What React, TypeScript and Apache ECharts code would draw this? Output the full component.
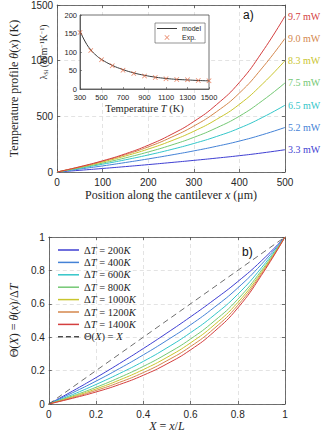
import React, { useEffect, useRef } from "react";
import * as echarts from "echarts";

// ---------- data ----------
const POSITION_UM = [0, 50, 100, 150, 200, 250, 300, 350, 400, 450, 500];
const NORM_X = [0, 0.1, 0.2, 0.3, 0.4, 0.5, 0.6, 0.7, 0.8, 0.9, 1];
const DELTA_T = [200, 400, 600, 800, 1000, 1200, 1400];
const POWER_LABELS = ["3.3 mW", "5.2 mW", "6.5 mW", "7.5 mW", "8.3 mW", "9.0 mW", "9.7 mW"];
const THETA_200 = [0, 0.077, 0.158, 0.243, 0.332, 0.425, 0.522, 0.624, 0.733, 0.857, 1];
const THETA_400 = [0, 0.067, 0.137, 0.213, 0.294, 0.381, 0.474, 0.578, 0.695, 0.836, 1];
const THETA_600 = [0, 0.056, 0.117, 0.183, 0.255, 0.336, 0.427, 0.532, 0.657, 0.815, 1];
const THETA_800 = [0, 0.048, 0.1, 0.159, 0.225, 0.301, 0.389, 0.496, 0.627, 0.799, 1];
const THETA_1000 = [0, 0.043, 0.09, 0.144, 0.206, 0.279, 0.366, 0.473, 0.608, 0.788, 1];
const THETA_1200 = [0, 0.038, 0.081, 0.13, 0.188, 0.259, 0.344, 0.452, 0.591, 0.779, 1];
const THETA_1400 = [0, 0.034, 0.072, 0.117, 0.172, 0.24, 0.324, 0.433, 0.575, 0.77, 1];
const THETAS = [THETA_200, THETA_400, THETA_600, THETA_800, THETA_1000, THETA_1200, THETA_1400];
const COLORS = ["#3f3fd2", "#4482d6", "#33c6c9", "#74c874", "#c9c52e", "#d4874c", "#d43f3f"];

const MODEL_T = [300, 350, 400, 450, 500, 600, 700, 800, 900, 1000, 1100, 1200, 1300, 1400, 1500];
const MODEL_LAMBDA = [157, 127, 106, 91, 80, 64, 52.5, 43.5, 37, 32, 28.5, 26, 24.5, 23, 22];
const EXP_T = [300, 400, 500, 600, 700, 800, 900, 1000, 1100, 1200, 1300, 1400, 1500];
const EXP_LAMBDA = [153, 104, 79, 63, 51, 42, 35, 31, 28, 26, 25, 23, 22];

const MAIN_X_TICKS = { min: 0, max: 500, interval: 100 };
const MAIN_Y_TICKS = { min: 0, max: 1500, interval: 500 };
const INSET_X_TICKS = { min: 300, max: 1500, interval: 200 };
const INSET_Y_TICKS = { min: 0, max: 200, interval: 50 };
const NORM_TICKS = { min: 0, max: 1, interval: 0.2 };

// ---------- styles ----------
const SERIF = "Liberation Serif";
const SANS = "Liberation Sans";
const AXIS_COLOR = "#4d4d4d";
const LABEL_COLOR = "#262626";
const XMARK = "path://M1,0 L5,4 L9,0 L10,1 L6,5 L10,9 L9,10 L5,6 L1,10 L0,9 L4,5 L0,1 Z";
const LINE_ICON = "path://M0,0 L14,0 L14,1 L0,1 Z";
const DASH_ICON = "path://M0,0 h3.3 v1 h-3.3 Z M5.3,0 h3.3 v1 h-3.3 Z M10.7,0 h3.3 v1 h-3.3 Z";
const plain = (v: number) => String(Math.round(v * 1000) / 1000);

const italicRich = (size: number, lh?: number) => ({
  i: { fontStyle: "italic", fontFamily: SERIF, fontSize: size, color: LABEL_COLOR, lineHeight: lh },
  sub: { fontFamily: SERIF, fontSize: size * 0.65, color: LABEL_COLOR, verticalAlign: "bottom", padding: [4, 0, 0, 0] },
  sup: { fontFamily: SERIF, fontSize: size * 0.65, color: LABEL_COLOR, verticalAlign: "top", padding: [0, 0, 4, 0] },
});

function axis(
  kind: "x" | "y",
  gridIndex: number,
  ticks: { min: number; max: number; interval: number },
  position: string,
  labels: boolean,
  extra: any = {}
) {
  return {
    type: "value",
    gridIndex,
    position,
    min: ticks.min,
    max: ticks.max,
    interval: ticks.interval,
    axisLine: { show: true, onZero: false, lineStyle: { color: AXIS_COLOR, width: 0.8 } },
    axisTick: { show: true, inside: true, length: 3, lineStyle: { color: AXIS_COLOR, width: 0.8 } },
    axisLabel: {
      show: labels,
      fontFamily: SANS,
      fontSize: 10,
      color: LABEL_COLOR,
      margin: kind === "x" ? 5 : 4,
      formatter: plain,
    },
    splitLine: { show: false },
    ...extra,
  };
}

const gridSplit = { show: true, lineStyle: { color: "#dcdcdc", type: [4, 3], width: 0.8 } };

export default function App() {
  const ref = useRef<HTMLDivElement>(null);

  useEffect(() => {
    document.body.style.margin = "0";
    const chart = echarts.init(ref.current!, null, { renderer: "svg" });

    const topSeries = DELTA_T.map((dt, k) => ({
      type: "line",
      name: POWER_LABELS[k],
      xAxisIndex: 0,
      yAxisIndex: 0,
      data: POSITION_UM.map((x, j) => [x, dt * THETAS[k][j]]),
      smooth: true,
      symbol: "none",
      lineStyle: { color: COLORS[k], width: 1 },
      itemStyle: { color: COLORS[k] },
      endLabel: {
        show: true,
        formatter: "{a}",
        color: COLORS[k],
        fontFamily: SERIF,
        fontSize: 10,
        distance: 3,
      },
      z: 2,
    }));

    const bottomNames = DELTA_T.map((dt) => `ΔT = ${dt}K`);
    const bottomSeries = DELTA_T.map((dt, k) => ({
      type: "line",
      name: bottomNames[k],
      xAxisIndex: 4,
      yAxisIndex: 4,
      data: NORM_X.map((x, j) => [x, THETAS[k][j]]),
      smooth: true,
      symbol: "none",
      lineStyle: { color: COLORS[k], width: 1 },
      itemStyle: { color: COLORS[k] },
    }));

    const option: any = {
      animation: false,
      backgroundColor: "#ffffff",
      grid: [
        { left: 45, top: 5, width: 240, height: 167 },
        {
          left: 80, top: 15, width: 129, height: 74, show: true,
          backgroundColor: "#ffffff", borderColor: AXIS_COLOR, borderWidth: 0.8, z: 3,
        },
        { left: 45, top: 237, width: 240, height: 167 },
      ],
      xAxis: [
        axis("x", 0, MAIN_X_TICKS, "bottom", true, {
          splitLine: gridSplit,
          name: "Position along the cantilever {i|x} (μm)",
          nameLocation: "middle",
          nameGap: 17,
          nameTextStyle: { fontFamily: SERIF, fontSize: 12, color: LABEL_COLOR, rich: italicRich(12) },
        }),
        axis("x", 0, MAIN_X_TICKS, "top", false),
        axis("x", 1, INSET_X_TICKS, "bottom", true, {
          z: 4,
          axisLabel: { show: true, fontFamily: SANS, fontSize: 7.5, color: LABEL_COLOR, margin: 4, formatter: plain },
          axisTick: { show: true, inside: true, length: 2, lineStyle: { color: AXIS_COLOR, width: 0.6 } },
          name: "Temperature {i|T} (K)",
          nameLocation: "middle",
          nameGap: 14,
          nameTextStyle: { fontFamily: SERIF, fontSize: 10.5, color: LABEL_COLOR, rich: italicRich(10.5) },
        }),
        axis("x", 2, NORM_TICKS, "top", false),
        axis("x", 2, NORM_TICKS, "bottom", true, {
          splitLine: gridSplit,
          name: "{i|X} = {i|x}/{i|L}",
          nameLocation: "middle",
          nameGap: 12,
          nameTextStyle: { fontFamily: SERIF, fontSize: 12, color: LABEL_COLOR, rich: italicRich(12) },
        }),
      ],
      yAxis: [
        axis("y", 0, MAIN_Y_TICKS, "left", true, {
          splitLine: gridSplit,
          name: "Temperature profile {i|θ}({i|x}) (K)",
          nameLocation: "middle",
          nameGap: 32,
          nameTextStyle: { fontFamily: SERIF, fontSize: 12, color: LABEL_COLOR, rich: italicRich(12) },
        }),
        axis("y", 0, MAIN_Y_TICKS, "right", false),
        axis("y", 1, INSET_Y_TICKS, "left", true, {
          z: 4,
          axisLabel: { show: true, fontFamily: SANS, fontSize: 7.5, color: LABEL_COLOR, margin: 3, formatter: plain },
          axisTick: { show: true, inside: true, length: 2, lineStyle: { color: AXIS_COLOR, width: 0.6 } },
          name: "λ{sub|Si} (Wm{sup|−1}K{sup|−1})",
          nameLocation: "middle",
          nameGap: 31,
          nameTextStyle: { fontFamily: SERIF, fontSize: 9.5, color: LABEL_COLOR, rich: italicRich(9.5) },
        }),
        axis("y", 2, NORM_TICKS, "right", false),
        axis("y", 2, NORM_TICKS, "left", true, {
          splitLine: gridSplit,
          name: "Θ({i|X}) = {i|θ}({i|x})/Δ{i|T}",
          nameLocation: "middle",
          nameGap: 26,
          nameTextStyle: { fontFamily: SERIF, fontSize: 12, color: LABEL_COLOR, rich: italicRich(12) },
        }),
      ],
      legend: [
        {
          data: [
            ...bottomNames.map((n, k) => ({ name: n, icon: LINE_ICON, itemStyle: { color: COLORS[k] } })),
            { name: "Θ(X) = X", icon: DASH_ICON, itemStyle: { color: "#4a4a4a" } },
          ],
          orient: "vertical",
          left: 53,
          top: 239,
          itemWidth: 21,
          itemHeight: 1.5,
          itemGap: 0.4,
          selectedMode: false,
          formatter: (name: string) =>
            name.startsWith("Θ")
              ? "Θ({i|X}) = {i|X}"
              : name.replace("ΔT = ", "Δ{i|T} = ").replace("K", "{i|K}"),
          textStyle: { fontFamily: SERIF, fontSize: 10.5, lineHeight: 12, color: LABEL_COLOR, rich: italicRich(10.5, 12) },
        },
        {
          data: [
            { name: "model", icon: "path://M0,0 L20,0 L20,1 L0,1 Z", itemStyle: { color: "#3a3a3a" } },
            { name: "Exp.", icon: XMARK, itemStyle: { color: "#e2643c" } },
          ],
          orient: "vertical",
          left: 155,
          top: 23,
          itemWidth: 20,
          itemHeight: 5,
          itemGap: 2,
          padding: [2, 4, 2, 2],
          selectedMode: false,
          backgroundColor: "#ffffff",
          borderColor: AXIS_COLOR,
          borderWidth: 0.6,
          z: 6,
          textStyle: { fontFamily: SANS, fontSize: 7, color: LABEL_COLOR },
        },
      ],
      graphic: [
        { type: "text", left: 243, top: 9, z: 10, style: { text: "a)", fontFamily: SANS, fontSize: 12, fill: "#111" } },
        { type: "text", left: 242, top: 246, z: 10, style: { text: "b)", fontFamily: SANS, fontSize: 12, fill: "#111" } },
      ],
      series: [
        ...topSeries,
        {
          type: "line",
          name: "model",
          xAxisIndex: 2,
          yAxisIndex: 2,
          data: MODEL_T.map((t, j) => [t, MODEL_LAMBDA[j]]),
          smooth: true,
          symbol: "none",
          lineStyle: { color: "#3a3a3a", width: 1 },
          itemStyle: { color: "#3a3a3a" },
          z: 5,
        },
        {
          type: "scatter",
          name: "Exp.",
          xAxisIndex: 2,
          yAxisIndex: 2,
          data: EXP_T.map((t, j) => [t, EXP_LAMBDA[j]]),
          symbol: XMARK,
          symbolSize: 5,
          itemStyle: { color: "#e2643c" },
          z: 6,
        },
        ...bottomSeries,
        {
          type: "line",
          name: "Θ(X) = X",
          xAxisIndex: 4,
          yAxisIndex: 4,
          data: [[NORM_X[0], NORM_X[0]], [NORM_X[10], NORM_X[10]]],
          symbol: "none",
          lineStyle: { color: "#4a4a4a", width: 0.8, type: [6, 4] },
          itemStyle: { color: "#4a4a4a" },
        },
      ],
    };

    chart.setOption(option);
    return () => chart.dispose();
  }, []);

  return <div ref={ref} style={{ width: 322, height: 437 }} />;
}
